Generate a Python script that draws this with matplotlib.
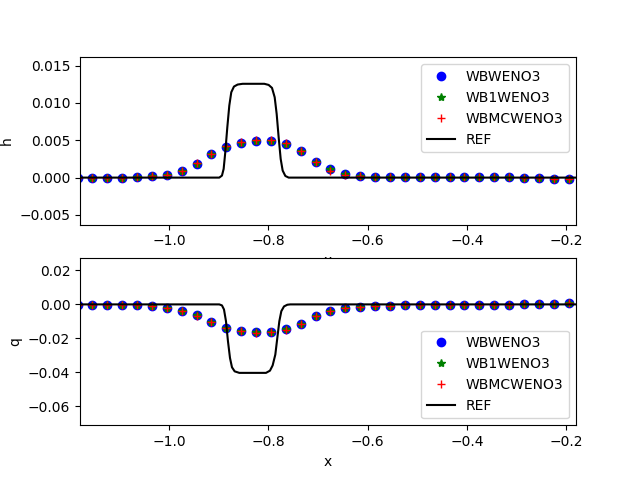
import matplotlib
matplotlib.use('Agg')
import matplotlib.pyplot as plt

# cell centres
x = [-1.185, -1.155, -1.125, -1.095, -1.065, -1.035, -1.005, -0.975, -0.945,
     -0.915, -0.885, -0.855, -0.825, -0.795, -0.765, -0.735, -0.705, -0.675,
     -0.645, -0.615, -0.585, -0.555, -0.525, -0.495, -0.465, -0.435, -0.405,
     -0.375, -0.345, -0.315, -0.285, -0.255, -0.225, -0.195]

# h perturbation
h_wbweno3 = [0.0, 0.0, 0.0, 0.0, 0.0001, 0.0002, 0.0004, 0.00095, 0.00185,
             0.0032, 0.0041, 0.0047, 0.0049, 0.0049, 0.0045, 0.0035, 0.0021,
             0.0011, 0.00045, 0.0002, 0.0001, 0.0001, 0.0001, 0.0001, 0.00013,
             0.00013, 0.00013, 0.00013, 0.0001, 0.0001, 0.0, -0.00004, -0.00013,
             -0.0002]
h_wb1weno3 = [0.0, 0.0, 0.0, 0.0, 0.0001, 0.0002, 0.0004, 0.00095, 0.00185,
              0.0032, 0.0041, 0.0047, 0.0049, 0.0049, 0.0045, 0.0035, 0.0021,
              0.0011, 0.00045, 0.0002, 0.0001, 0.0001, 0.0001, 0.0001, 0.00013,
              0.00013, 0.00013, 0.00013, 0.0001, 0.0001, 0.0, -0.00004, -0.00013,
              -0.0002]
h_wbmcweno3 = [0.0, 0.0, 0.0, 0.0, 0.0001, 0.0002, 0.0004, 0.0009, 0.0019,
               0.0032, 0.0042, 0.0048, 0.0051, 0.0050, 0.0046, 0.0035, 0.0021,
               0.0009, 0.0004, 0.0002, 0.0001, 0.0001, 0.0001, 0.0001, 0.00013,
               0.00013, 0.00013, 0.00013, 0.0001, 0.0001, 0.0, -0.00004, -0.00013,
               -0.0002]

# discharge perturbation
q_wbweno3 = [-0.0003, -0.0006, -0.0006, -0.0006, -0.0006, -0.0012, -0.002,
             -0.0038, -0.0065, -0.0105, -0.0138, -0.0156, -0.016, -0.016,
             -0.0148, -0.0117, -0.0071, -0.0041, -0.0023, -0.0015, -0.001,
             -0.0007, -0.0006, -0.0006, -0.0006, -0.0006, -0.0006, -0.0006,
             -0.0006, -0.0004, 0.0002, 0.0002, 0.0002, 0.0006]
q_wb1weno3 = [-0.0003, -0.0006, -0.0006, -0.0006, -0.0006, -0.0012, -0.002,
              -0.0038, -0.0065, -0.0105, -0.0138, -0.0156, -0.016, -0.016,
              -0.0148, -0.0117, -0.0071, -0.0041, -0.0023, -0.0015, -0.001,
              -0.0007, -0.0006, -0.0006, -0.0006, -0.0006, -0.0006, -0.0006,
              -0.0006, -0.0004, 0.0002, 0.0002, 0.0002, 0.0006]
q_wbmcweno3 = [-0.0003, -0.0006, -0.0006, -0.0006, -0.0006, -0.0012, -0.002,
               -0.0038, -0.0066, -0.0106, -0.0139, -0.0158, -0.0166, -0.0162,
               -0.0149, -0.0117, -0.0071, -0.0041, -0.0023, -0.0015, -0.001,
               -0.0007, -0.0006, -0.0006, -0.0006, -0.0006, -0.0006, -0.0006,
               -0.0006, -0.0004, 0.0002, 0.0002, 0.0002, 0.0006]

# reference solution (fine grid)
x_ref = [-1.18, -0.8992, -0.8938, -0.8904, -0.8871, -0.8830, -0.8790, -0.8750,
         -0.8696, -0.8622, -0.8521, -0.8084, -0.7997, -0.7929, -0.7875,
         -0.7835, -0.7795, -0.7754, -0.7714, -0.7660, -0.7593, -0.18]
h_ref = [0.0, 0.0, 0.00027, 0.00116, 0.00339, 0.00674, 0.00964, 0.01143,
         0.01219, 0.01246, 0.01256, 0.01256, 0.01241, 0.01201, 0.01076,
         0.00853, 0.00540, 0.00250, 0.00094, 0.00022, 0.0, 0.0]

xq_ref = [-1.18, -0.8992, -0.8938, -0.8897, -0.8857, -0.8817, -0.8776, -0.8736,
          -0.8682, -0.8588, -0.8050, -0.7970, -0.7916, -0.7862, -0.7822,
          -0.7781, -0.7741, -0.7687, -0.7620, -0.7560, -0.18]
q_ref = [0.0, 0.0, -0.0006, -0.0030, -0.0099, -0.0217, -0.0316, -0.0371,
         -0.0395, -0.0404, -0.0404, -0.0391, -0.0360, -0.0296, -0.0198,
         -0.0099, -0.0040, -0.0012, -0.0002, 0.0, 0.0]

fig, (ax1, ax2) = plt.subplots(2, 1, figsize=(6.4, 4.78), dpi=100)

ax1.plot(x, h_wbweno3, 'bo', label='WBWENO3')
ax1.plot(x, h_wb1weno3, 'g*', label='WB1WENO3')
ax1.plot(x, h_wbmcweno3, 'r+', label='WBMCWENO3')
ax1.plot(x_ref, h_ref, 'k-', label='REF')
ax1.set_xlim(-1.18, -0.18)
ax1.set_ylim(-0.0063, 0.0161)
ax1.set_xlabel('x')
ax1.set_ylabel('h')
ax1.legend(loc='upper right')

ax2.plot(x, q_wbweno3, 'bo', label='WBWENO3')
ax2.plot(x, q_wb1weno3, 'g*', label='WB1WENO3')
ax2.plot(x, q_wbmcweno3, 'r+', label='WBMCWENO3')
ax2.plot(xq_ref, q_ref, 'k-', label='REF')
ax2.set_xlim(-1.18, -0.18)
ax2.set_ylim(-0.0714, 0.0273)
ax2.set_xlabel('x')
ax2.set_ylabel('q')
ax2.legend(loc='lower right')

plt.savefig('out.png')
